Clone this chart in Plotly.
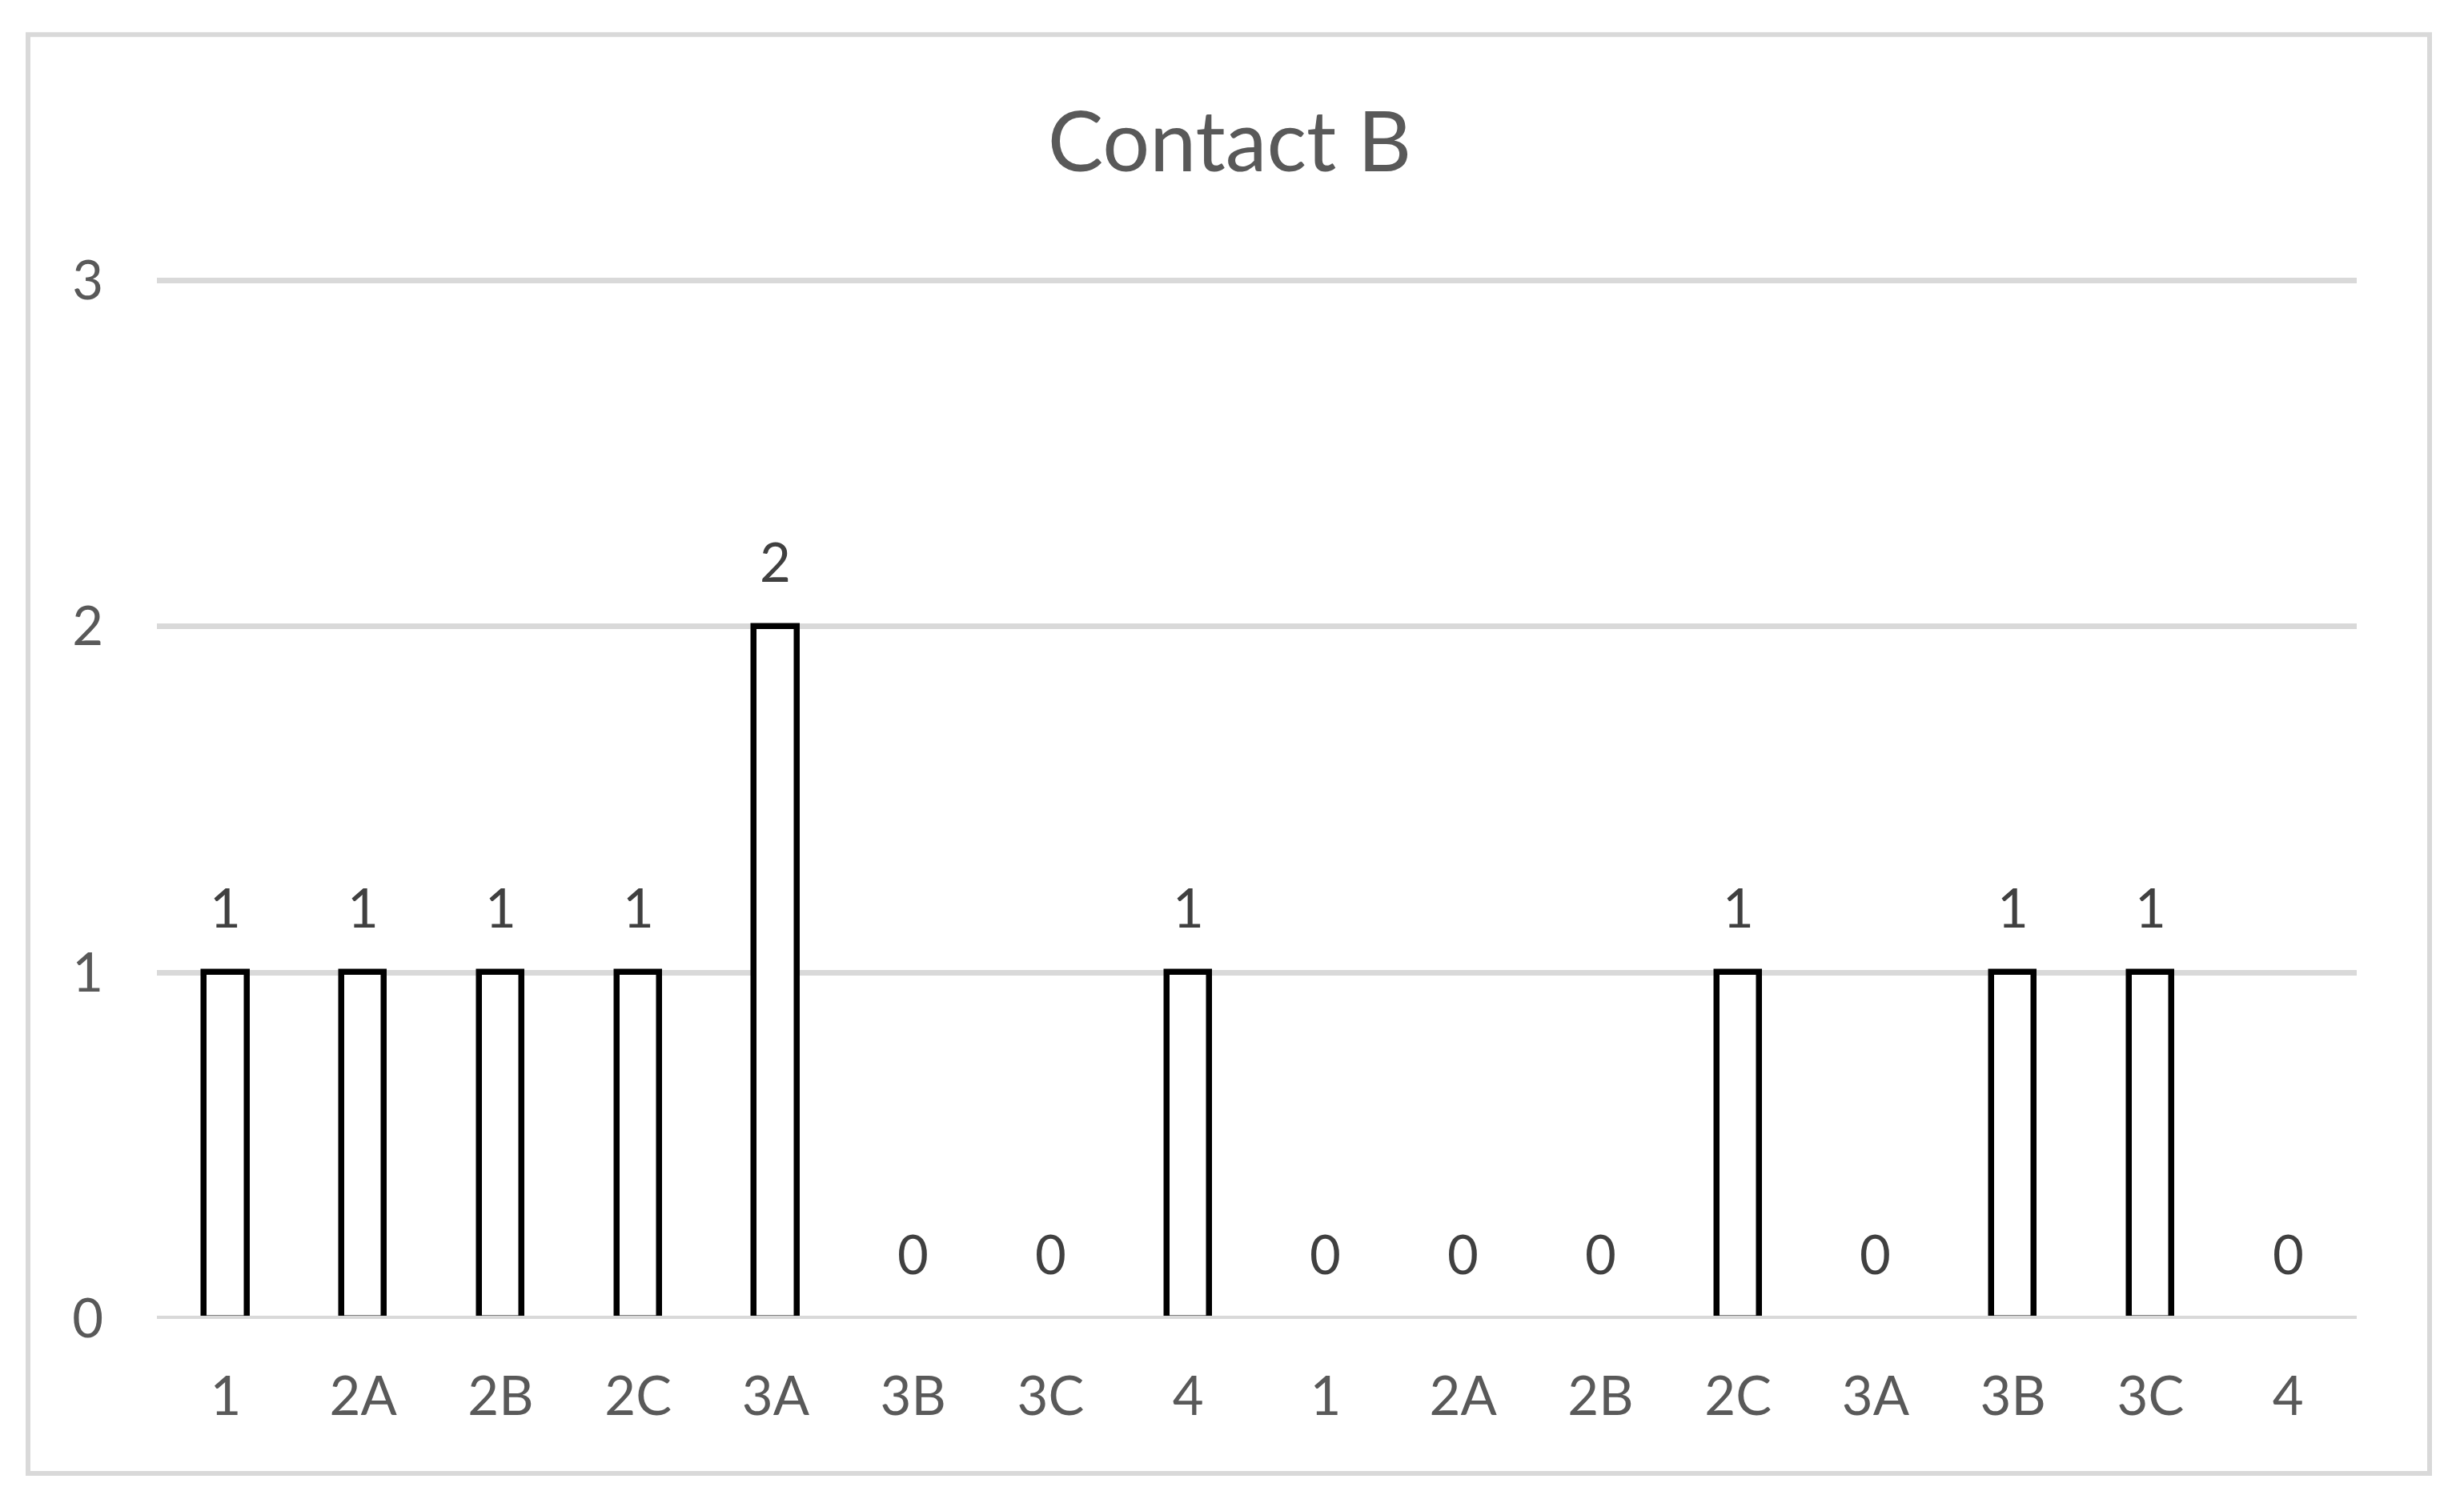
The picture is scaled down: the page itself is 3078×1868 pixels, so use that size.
import plotly.graph_objects as go

categories = ["1", "2A", "2B", "2C", "3A", "3B", "3C", "4",
              "1", "2A", "2B", "2C", "3A", "3B", "3C", "4"]
values = [1, 1, 1, 1, 2, 0, 0, 1, 0, 0, 0, 1, 0, 1, 1, 0]
y_ticks = [0, 1, 2, 3]
title_text = "Contact B"

# page has an 8px body margin; lay the figure out in window pixels minus that offset
OFF = 8
WIN_W, WIN_H = 3078, 1868
W, H = WIN_W - 2 * OFF, WIN_H - 2 * OFF
FONT = "Lato"
TICK_COLOR = "#595959"
LABEL_COLOR = "#404040"
GRID = "#d9d9d9"

positions = list(range(len(categories)))
outline_widths = [7.5 if v != 0 else 0 for v in values]

fig = go.Figure()
fig.add_trace(go.Bar(
    x=positions, y=values, width=0.31,
    marker=dict(color="white", line=dict(color="black", width=outline_widths)),
    hoverinfo="skip", showlegend=False,
))

annotations = []
for xi, v in zip(positions, values):
    annotations.append(dict(
        x=xi, y=v, xref="x", yref="y", text=str(v), showarrow=False,
        yanchor="middle", xanchor="center", yshift=82,
        font=dict(family=FONT, size=67, color=LABEL_COLOR),
    ))

Y_TOP = 3.005
plot_left, plot_right = 196 - OFF, 2944 - OFF
y0_px = 1648 - OFF
unit = (1648 - 350) / 3.0
ml = plot_left
mr = W - plot_right
mb = H - y0_px
mt = y0_px - Y_TOP * unit
pw, ph = W - ml - mr, H - mt - mb

def px_to_paper_x(px):
    return (px - OFF - ml) / pw

def px_to_paper_y(py):
    return (H - mb - (py - OFF)) / ph

shapes = [
    dict(type="rect", xref="paper", yref="paper",
         x0=px_to_paper_x(35), x1=px_to_paper_x(3035),
         y0=px_to_paper_y(1841), y1=px_to_paper_y(43),
         line=dict(color=GRID, width=6), fillcolor="rgba(0,0,0,0)", layer="below"),
    dict(type="line", xref="paper", yref="y", x0=0, x1=1, y0=0, y1=0,
         line=dict(color=GRID, width=8), layer="above"),
]

fig.update_layout(
    width=W, height=H,
    margin=dict(l=ml, r=mr, t=mt, b=mb, pad=0),
    paper_bgcolor="white", plot_bgcolor="white",
    title=dict(text=title_text, x=(1536 - OFF) / W, xref="container", xanchor="center",
               y=1 - (178 - OFF) / H, yref="container", yanchor="middle",
               font=dict(family=FONT, size=104, color=TICK_COLOR)),
    xaxis=dict(
        tickmode="array", tickvals=positions, ticktext=categories,
        range=[-0.5, len(categories) - 0.5],
        showgrid=False, zeroline=False, showline=False, ticks="",
        tickfont=dict(family=FONT, size=67, color=TICK_COLOR),
        ticklabelstandoff=52,
    ),
    yaxis=dict(
        tickmode="array", tickvals=y_ticks, ticktext=[str(t) for t in y_ticks],
        range=[0, Y_TOP], showgrid=True, gridcolor=GRID, gridwidth=7,
        zeroline=False, showline=False, ticks="",
        tickfont=dict(family=FONT, size=67, color=TICK_COLOR),
        ticklabelstandoff=66,
    ),
    annotations=annotations,
    shapes=shapes,
    bargap=0,
)

fig.write_html("out.html")
